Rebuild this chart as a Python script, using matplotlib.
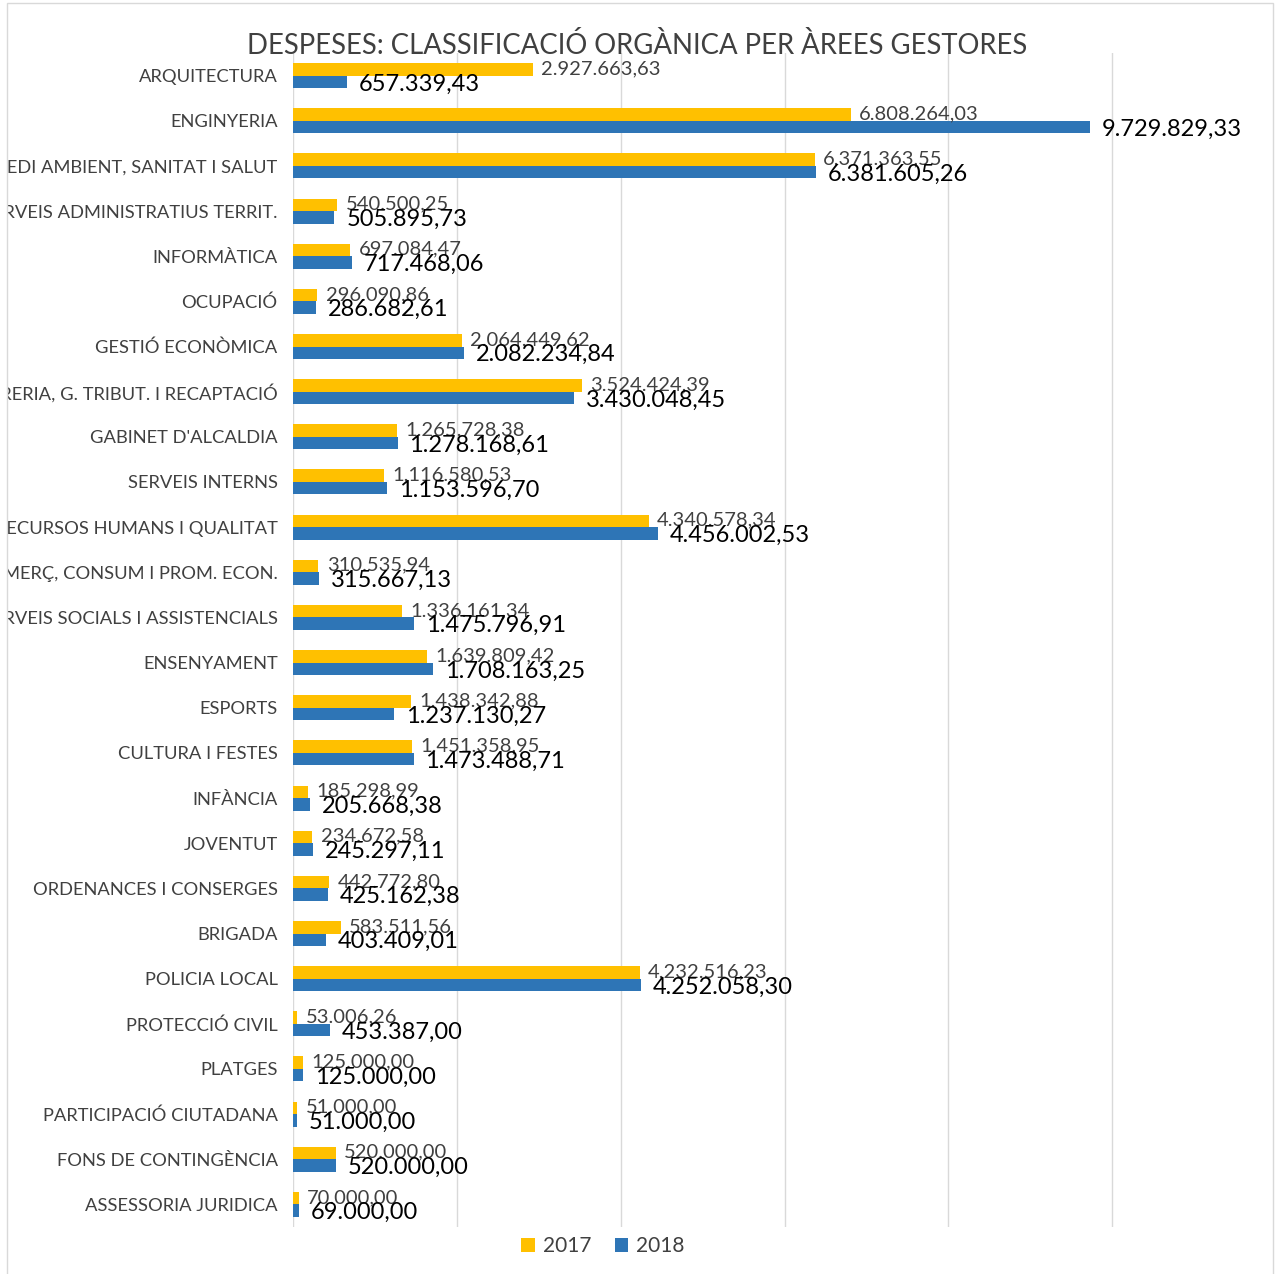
import matplotlib
matplotlib.use("Agg")
import matplotlib.pyplot as plt
import numpy as np
from matplotlib.patches import Rectangle
from matplotlib.transforms import Bbox, TransformedBbox

plt.rcParams['font.family'] = ['Lato', 'DejaVu Sans']

# data
areas = ["ARQUITECTURA", "ENGINYERIA", "MEDI AMBIENT, SANITAT I SALUT",
         "SERVEIS ADMINISTRATIUS TERRIT.", "INFORMÀTICA", "OCUPACIÓ",
         "GESTIÓ ECONÒMICA", "TRESORERIA, G. TRIBUT. I RECAPTACIÓ",
         "GABINET D'ALCALDIA", "SERVEIS INTERNS", "RECURSOS HUMANS I QUALITAT",
         "COMERÇ, CONSUM I PROM. ECON.", "SERVEIS SOCIALS I ASSISTENCIALS",
         "ENSENYAMENT", "ESPORTS", "CULTURA I FESTES", "INFÀNCIA", "JOVENTUT",
         "ORDENANCES I CONSERGES", "BRIGADA", "POLICIA LOCAL", "PROTECCIÓ CIVIL",
         "PLATGES", "PARTICIPACIÓ CIUTADANA", "FONS DE CONTINGÈNCIA",
         "ASSESSORIA JURIDICA"]
y2017 = [2927663.63, 6808264.03, 6371363.55, 540500.25, 697084.47, 296090.86,
         2064449.62, 3524424.39, 1265728.38, 1116580.53, 4340578.34, 310535.94,
         1336161.34, 1639809.42, 1438342.88, 1451358.95, 185298.99, 234672.58,
         442772.80, 583511.56, 4232516.23, 53006.26, 125000.00, 51000.00,
         520000.00, 70000.00]
y2018 = [657339.43, 9729829.33, 6381605.26, 505895.73, 717468.06, 286682.61,
         2082234.84, 3430048.45, 1278168.61, 1153596.70, 4456002.53, 315667.13,
         1475796.91, 1708163.25, 1237130.27, 1473488.71, 205668.38, 245297.11,
         425162.38, 403409.01, 4252058.30, 453387.00, 125000.00, 51000.00,
         520000.00, 69000.00]

c17 = '#FFC000'
c18 = '#2E75B6'
grey = '#404040'


def fmt(v):
    s = f"{v:,.2f}"
    return s.replace(',', 'X').replace('.', ',').replace('X', '.')


W, H = 1275, 1274
fig = plt.figure(figsize=(W / 100, H / 100), dpi=100)
ax = fig.add_axes([293 / W, 1 - 1227 / H, 983 / W, (1227 - 53) / H])

pos = np.arange(len(areas))
h = 0.277
ax.barh(pos - h / 2, y2017, height=h, color=c17, label='2017', zorder=2)
ax.barh(pos + h / 2, y2018, height=h, color=c18, label='2018', zorder=2)

for i in range(len(areas)):
    ax.annotate(fmt(y2017[i]), xy=(y2017[i], pos[i] - h / 2), xytext=(6, 0.5),
                textcoords='offset points', va='center', ha='left',
                fontsize=14.5, color=grey, zorder=3)
    ax.annotate(fmt(y2018[i]), xy=(y2018[i], pos[i] + h / 2), xytext=(8.5, -1.5),
                textcoords='offset points', va='center', ha='left',
                fontsize=17, color='black', zorder=3)

ax.set_xlim(0, 12e6)
ax.set_ylim(len(areas) - 0.5, -0.5)
ax.set_xticks(np.arange(0, 10.1e6, 2e6))
ax.set_xticklabels([])
ax.set_yticks(pos)
ax.set_yticklabels(areas, fontsize=13.2, color=grey)
ax.tick_params(axis='both', length=0)
ax.tick_params(axis='y', pad=11)
ax.grid(axis='x', color='#D9D9D9', linewidth=1, zorder=0)
for s in ax.spines.values():
    s.set_visible(False)

# labels are cut by the chart frame on the left
clip = TransformedBbox(Bbox([[7 / W, 0], [1273 / W, 1]]), fig.transFigure)
for t in ax.get_yticklabels():
    t.set_clip_on(True)
    t.set_clip_box(clip)

fig.text(0.5, 1 - 45 / H, "DESPESES: CLASSIFICACIÓ ORGÀNICA PER ÀREES GESTORES",
         ha='center', va='center', fontsize=19.8, color=grey)

leg = fig.legend(loc='center', bbox_to_anchor=(603 / W, 1 - 1246 / H),
                 ncol=2, frameon=False, fontsize=15, handlelength=0.65,
                 handleheight=0.65, handletextpad=0.4, columnspacing=1.1)
for t in leg.get_texts():
    t.set_color(grey)

fig.patches.append(Rectangle((7 / W, -0.01), 1266 / W, 1.01 - 3 / H,
                             transform=fig.transFigure, fill=False,
                             edgecolor='#D9D9D9', linewidth=1))

fig.savefig("out.png", dpi=100)
